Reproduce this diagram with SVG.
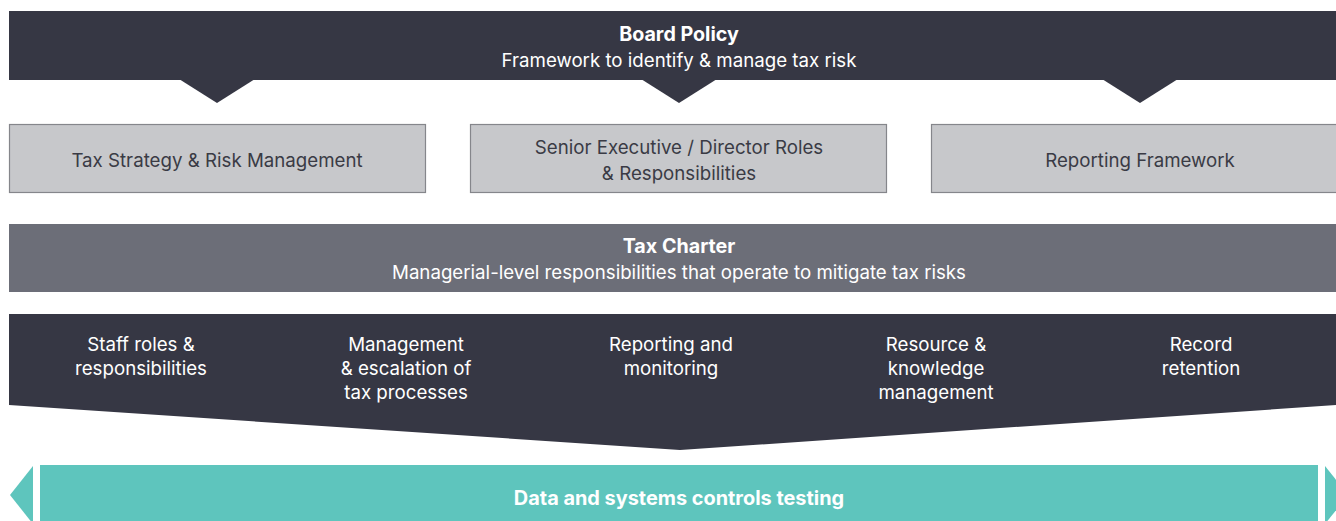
<svg xmlns="http://www.w3.org/2000/svg" width="1336" height="521" viewBox="0 0 1336 521">
<style>
.dark{fill:#363744}
.box{fill:#c7c8cb;stroke:#85868b;stroke-width:1.2}
.charter{fill:#6c6e78}
.teal{fill:#5ec5bd}
text{font-family:Inter,"Liberation Sans",sans-serif;text-anchor:middle}
.t18{font-size:18.7px;fill:#ffffff}
.b18{font-size:19.7px;font-weight:700;fill:#ffffff}
.g18{font-size:18.7px;fill:#3a3b45}
.bt{font-size:19.9px;font-weight:700;fill:#ffffff}
</style>
<rect width="1336" height="521" fill="#ffffff"/>
<g id="board-policy">
<rect class="dark" x="9" y="11" width="1327" height="69"/>
<polygon class="dark" points="179,79 255,79 217,103"/>
<polygon class="dark" points="641,79 717,79 679,103"/>
<polygon class="dark" points="1102,79 1178,79 1140,103"/>
<text class="b18" x="679" y="40.5">Board Policy</text>
<text class="t18" x="679" y="66.5">Framework to identify &amp; manage tax risk</text>
</g>
<g id="tax-strategy">
<rect class="box" x="9.5" y="124.5" width="416" height="68"/>
<text class="g18" x="217" y="167">Tax Strategy &amp; Risk Management</text>
</g>
<g id="senior-exec">
<rect class="box" x="470.5" y="124.5" width="416" height="68"/>
<text class="g18" x="679" y="153.5">Senior Executive / Director Roles</text>
<text class="g18" x="679" y="179.5">&amp; Responsibilities</text>
</g>
<g id="reporting-framework">
<rect class="box" x="931.5" y="124.5" width="416" height="68"/>
<text class="g18" x="1140" y="167">Reporting Framework</text>
</g>
<g id="tax-charter">
<rect class="charter" x="9" y="224" width="1327" height="68"/>
<text class="b18" x="679" y="252.5">Tax Charter</text>
<text class="t18" x="679" y="278.5">Managerial-level responsibilities that operate to mitigate tax risks</text>
</g>
<g id="managerial">
<polygon class="dark" points="9,314 1336,314 1336,405 680,450 9,405"/>
<text class="t18" x="141" y="350.5">Staff roles &amp;</text>
<text class="t18" x="141" y="374.5">responsibilities</text>
<text class="t18" x="406" y="350.5">Management</text>
<text class="t18" x="406" y="374.5">&amp; escalation of</text>
<text class="t18" x="406" y="398.5">tax processes</text>
<text class="t18" x="671" y="350.5">Reporting and</text>
<text class="t18" x="671" y="374.5">monitoring</text>
<text class="t18" x="936" y="350.5">Resource &amp;</text>
<text class="t18" x="936" y="374.5">knowledge</text>
<text class="t18" x="936" y="398.5">management</text>
<text class="t18" x="1201" y="350.5">Record</text>
<text class="t18" x="1201" y="374.5">retention</text>
</g>
<g id="data-systems">
<polygon class="teal" points="33,466 33,524 10,495"/>
<rect class="teal" x="40" y="465" width="1278" height="56"/>
<polygon class="teal" points="1325,466 1325,524 1348,495"/>
<text class="bt" x="679" y="504.5">Data and systems controls testing</text>
</g>
<g id="connectors"></g>
</svg>
